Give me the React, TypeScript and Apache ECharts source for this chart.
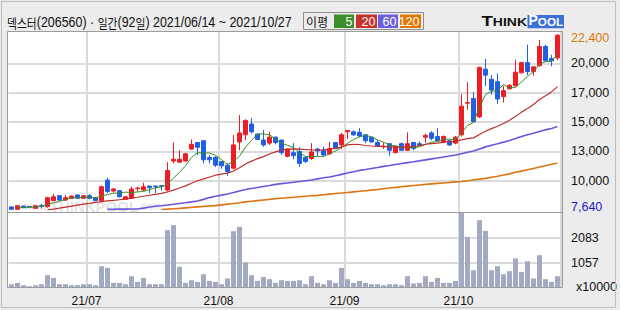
import { useEffect, useRef } from "react";
import * as echarts from "echarts";

const dates = [
  "2021-06-14","2021-06-15","2021-06-16","2021-06-17","2021-06-18","2021-06-21","2021-06-22","2021-06-23","2021-06-24","2021-06-25","2021-06-28","2021-06-29","2021-06-30",
  "2021-07-01","2021-07-02","2021-07-05","2021-07-06","2021-07-07","2021-07-08","2021-07-09","2021-07-12","2021-07-13","2021-07-14","2021-07-15","2021-07-16","2021-07-19","2021-07-20","2021-07-21","2021-07-22","2021-07-23","2021-07-26","2021-07-27","2021-07-28","2021-07-29","2021-07-30",
  "2021-08-02","2021-08-03","2021-08-04","2021-08-05","2021-08-06","2021-08-09","2021-08-10","2021-08-11","2021-08-12","2021-08-13","2021-08-17","2021-08-18","2021-08-19","2021-08-20","2021-08-23","2021-08-24","2021-08-25","2021-08-26","2021-08-27","2021-08-30","2021-08-31",
  "2021-09-01","2021-09-02","2021-09-03","2021-09-06","2021-09-07","2021-09-08","2021-09-09","2021-09-10","2021-09-13","2021-09-14","2021-09-15","2021-09-16","2021-09-17","2021-09-23","2021-09-24","2021-09-27","2021-09-28","2021-09-29","2021-09-30",
  "2021-10-01","2021-10-05","2021-10-06","2021-10-07","2021-10-08","2021-10-12","2021-10-13","2021-10-14","2021-10-15","2021-10-18","2021-10-19","2021-10-20","2021-10-21","2021-10-22","2021-10-25","2021-10-26","2021-10-27",
];

const opens = [
  7900,7700,7970,7930,7780,8000,7920,8420,8840,8480,8620,8900,8620,
  8840,8670,8420,10150,9230,9260,8540,8620,9440,9320,9650,9650,9680,9320,11750,11650,11750,12750,13300,13450,12050,12050,
  11700,11400,11150,13350,13950,14850,14000,13500,13250,13750,13500,12150,12450,12550,12050,11950,12750,12650,12350,13300,13100,
  14200,14200,14150,13950,13750,13300,12950,13200,12450,13200,12650,13300,13200,13750,14100,13800,13350,13450,13250,
  13950,16600,17000,15450,19450,18600,18400,17150,17800,18050,19150,20000,19250,19750,21350,20350,20400,
];
const closes = [
  7700,8000,7830,7900,8000,7960,8670,8750,8480,8670,8810,8620,8840,
  8620,8420,9590,9200,9400,8750,8750,9400,9480,9590,9510,9600,9630,10950,11900,11900,12350,13150,12900,11850,11850,11400,
  11350,10850,13100,14100,15150,14200,13550,13100,13750,13300,12450,12750,12200,11550,11700,12500,12600,12250,12800,12800,13950,
  14300,13950,13850,13450,13350,13000,13000,12650,13000,12650,13200,12800,13100,13900,13650,13450,13800,13100,13750,
  16350,16650,15050,19600,18950,17700,16950,17650,18100,19200,20000,19250,19650,21350,20150,20150,22300,
];
const lows = [
  7640,7680,7800,7870,7760,7780,7830,8390,8390,8400,8580,8580,8580,
  8540,8380,8390,9050,9090,8700,8500,8560,9180,9230,9040,9060,9260,9230,11550,11600,11700,12700,12250,11550,11550,11250,
  11100,10500,11050,12650,13500,14050,13500,12950,13100,13150,12250,12050,11900,11250,11600,11850,12150,12200,12250,12750,12750,
  13600,13850,13750,13250,13300,13000,12750,12200,12400,12600,12600,12650,13000,13250,13500,13350,13250,13000,13150,
  13800,16050,14950,15350,18050,17300,16550,16650,17750,18000,19100,18950,18900,19650,20100,19700,20200,
];
const highs = [
  7970,8030,8000,7960,8020,8140,8750,8980,8900,8900,8850,8950,8880,
  8980,8700,9700,10350,9480,9300,8800,9590,9590,9930,9680,9680,9720,11650,13300,12650,12400,13550,13350,13500,12250,12150,
  11750,11550,13950,15600,15250,15350,14050,14350,14200,13800,13550,12800,13250,12900,12100,13250,12850,12950,13350,13300,14100,
  14350,14300,14500,13950,13750,13500,13300,13200,13050,13300,14150,13300,13400,14050,14250,14500,13900,13500,13850,
  17350,18350,17500,19650,20300,18950,19100,18050,18200,20250,20050,21500,19650,21900,21500,20650,22400,
];

// volume, x10000 shares
const volumes = [
  166,220,125,84,125,166,536,425,166,166,125,125,166,
  166,125,905,836,220,220,166,495,261,425,166,166,166,2383,2588,877,220,330,261,577,302,261,
  166,400,2342,2518,1057,536,302,466,372,220,330,302,302,330,166,495,220,166,330,220,836,
  372,220,302,220,166,166,125,166,166,125,495,193,220,495,261,425,220,220,302,
  3109,2107,741,2793,2354,741,905,577,700,1221,672,1110,400,1357,372,261,495,
];

const ma5Head = [null, 7820, 7850, 7870];
const ma20Head = [null,null,null,null,null,null,7650,7720,7800,7880,7970,8050,8130,8200,8280,8340,8400,8450,8500];
const ma60Head = [
  null,null,null,null,null,null,null,null,null,null,null,null,null,null,null,null,
  7700,7705,7710,7715,7720,7730,7800,7890,7950,8000,8060,8120,8185,8250,8320,8400,8530,8680,8790,8890,8980,
  9100,9230,9360,9450,9530,9610,9690,9790,9850,9910,9970,10030,10090,10150,10250,10350,10410,10520,10630,10740,10850,10960,
];
const ma120 = [
  null,null,null,null,null,null,null,null,null,null,null,null,null,null,null,null,null,null,null,null,null,null,null,null,null,
  7680,7710,7745,7780,7820,7860,7900,7940,7975,8010,8070,8130,8190,8250,8320,8380,8430,8480,8530,8590,8630,8670,8710,8750,8790,
  8830,8870,8920,8970,9020,9060,9110,9160,9210,9260,9310,9360,9420,9480,9540,9590,9640,9690,9740,9790,9830,9870,9910,9950,10000,
  10030,10090,10160,10230,10290,10380,10470,10570,10670,10800,10900,11010,11120,11240,11350,11470,11560,
];

const priceMin = 7640;
const priceMax = 22400;
const priceTickLabels = ["7,640", "10,000", "13,000", "15,000", "17,000", "20,000", "22,400"];
const volMin = 31;
const volMax = 3109;
const volTickLabels = ["x10000", "1057", "2083", ""];
const maPeriods = [5, 20, 60, 120];
const maColors = ["#3b8d22", "#c0302a", "#6a55dc", "#dc7410"];
const legendColors = ["#3b8f2a", "#c8322d", "#6a5fe0", "#e07800"];
const titleParts = { name: "덱스터", code: "(206560) · ", kind: "일간", days: "(92", dayUnit: "일", range: ") 2021/06/14 ~ 2021/10/27" };

const FONT_NUM = "'Liberation Sans', Arial, sans-serif";
const FONT_KR = "'Noto Sans CJK KR', sans-serif";
const GRID = "#dadada";
const UP = "#ee1c24";
const DOWN = "#1e5fe3";

function movingAverage(head: (number | null)[], period: number) {
  return closes.map((_, i) => {
    if (i < head.length) return head[i];
    let s = 0;
    for (let k = i - period + 1; k <= i; k++) s += closes[k];
    return s / period;
  });
}

function buildOption() {
  const isMonthStart = (i: number) => i > 0 && dates[i].slice(5, 7) !== dates[i - 1].slice(5, 7);
  const pStep = (priceMax - priceMin) / 6;
  const vStep = (volMax - volMin) / 3;
  const sp = (v: number | null) => (v == null ? null : v - priceMin);
  const maSeries = [
    movingAverage(ma5Head, 5),
    movingAverage(ma20Head, 20),
    movingAverage(ma60Head, 60),
    ma120,
  ];
  const maWidths = [1, 1.2, 1.6, 1.6];

  const candleData = dates.map((_, i) => [sp(opens[i]), sp(closes[i]), sp(lows[i]), sp(highs[i])]);
  const volData = volumes.map((v) => v - volMin);

  const graphic: any[] = [
    { type: "rect", z: -10, shape: { x: 7.5, y: 31.5, width: 555, height: 256 }, style: { fill: "#ffffff" } },
    { type: "rect", z: 50, shape: { x: 7.5, y: 31.5, width: 555, height: 256 }, style: { fill: "none", stroke: "#9c9c9c", lineWidth: 1 } },
    { type: "line", z: 50, shape: { x1: 7.5, y1: 212.5, x2: 562.5, y2: 212.5 }, style: { stroke: "#9c9c9c", lineWidth: 1 } },
    { type: "rect", z: 50, shape: { x: 1.5, y: 1.5, width: 614, height: 306 }, style: { fill: "none", stroke: "#bdbdbd", lineWidth: 1 } },
    {
      type: "text", z: 1, x: 24, y: 206,
      style: {
        text: "{s|www.}{b|THINKPOOL}{s|.com}",
        textVerticalAlign: "middle",
        rich: {
          s: { fontSize: 10, fontFamily: "Liberation Sans", fill: "rgba(140,140,140,0.25)", fontWeight: "bold" },
          b: { fontSize: 15, fontFamily: "Liberation Sans", fill: "rgba(140,140,140,0.25)", fontWeight: "bold" },
        },
      },
    },
    {
      type: "text", x: 7, y: 22, scaleX: 0.83, scaleY: 1,
      style: {
        text: `{k|${titleParts.name}}{n|${titleParts.code}}{k|${titleParts.kind}}{n|${titleParts.days}}{k|${titleParts.dayUnit}}{n|${titleParts.range}}`,
        textVerticalAlign: "middle",
        rich: {
          k: { fontFamily: FONT_KR, fontSize: 13, fill: "#111" },
          n: { fontFamily: FONT_NUM, fontSize: 15, fill: "#111" },
        },
      },
    },
    { type: "rect", shape: { x: 303.5, y: 12.5, width: 120, height: 17 }, style: { fill: "none", stroke: "#8e8e8e", lineWidth: 1 } },
    { type: "text", x: 306, y: 21.5, style: { text: "이평", font: `12px ${FONT_KR}`, fill: "#111", textVerticalAlign: "middle" } },
  ];
  const boxX = [334, 356, 378, 400];
  const boxW = [20, 21, 20, 21];
  maPeriods.forEach((p, j) => {
    graphic.push({ type: "rect", shape: { x: boxX[j], y: 14.5, width: boxW[j], height: 13.5 }, style: { fill: legendColors[j] } });
    graphic.push({
      type: "text", x: boxX[j] + boxW[j] - 1.5, y: 21.8,
      style: { text: String(p), font: `12.5px ${FONT_NUM}`, fill: "#ffffff", textAlign: "right", textVerticalAlign: "middle" },
    });
  });
  graphic.push({
    type: "text", x: 481.5, y: 27.6, scaleX: 1.33, scaleY: 1,
    style: {
      text: "{b|T}{s|HINK}",
      textVerticalAlign: "bottom",
      rich: {
        b: { fontSize: 14, fontWeight: "bold", fontFamily: "Liberation Sans", fill: "#111", verticalAlign: "bottom", lineHeight: 14 },
        s: { fontSize: 10.5, fontWeight: "bold", fontFamily: "Liberation Sans", fill: "#111", verticalAlign: "bottom", lineHeight: 14 },
      },
    },
  });
  graphic.push({ type: "rect", shape: { x: 527.5, y: 15, width: 36.5, height: 13.3 }, style: { fill: "#3d6fd9" } });
  graphic.push({
    type: "text", x: 545.8, y: 27.2,
    style: {
      text: "{b|P}{s|OOL}",
      textAlign: "center",
      textVerticalAlign: "bottom",
      rich: {
        b: { fontSize: 14, fontWeight: "bold", fontFamily: "Liberation Sans", fill: "#ffffff", verticalAlign: "bottom", lineHeight: 14 },
        s: { fontSize: 11.7, fontWeight: "bold", fontFamily: "Liberation Sans", fill: "#ffffff", verticalAlign: "bottom", lineHeight: 14 },
      },
    },
  });

  return {
    animation: false,
    backgroundColor: "#ececec",
    grid: [
      { left: 8.5, width: 552, top: 34, height: 176 },
      { left: 8.5, width: 552, top: 212.5, height: 75 },
      { left: 8.5, width: 552, top: 31.5, height: 256 },
    ],
    xAxis: [
      { type: "category", gridIndex: 0, data: dates, axisLine: { show: false }, axisTick: { show: false }, axisLabel: { show: false }, splitLine: { show: false } },
      {
        type: "category", gridIndex: 1, data: dates,
        axisLine: { show: false }, axisTick: { show: false }, splitLine: { show: false },
        axisLabel: {
          interval: (i: number) => isMonthStart(i),
          formatter: (v: string) => `${v.slice(2, 4)}/${v.slice(5, 7)}`,
          margin: 7, fontSize: 12, fontFamily: FONT_NUM, color: "#111", padding: [0, 6, 0, 0],
        },
      },
      {
        type: "category", gridIndex: 2, data: dates,
        axisLine: { show: false }, axisTick: { show: false }, axisLabel: { show: false },
        splitLine: { show: true, interval: (i: number) => isMonthStart(i), lineStyle: { color: GRID, width: 2 } },
      },
    ],
    yAxis: [
      {
        type: "value", gridIndex: 0, position: "right", min: 0, max: priceMax - priceMin, interval: pStep,
        axisLine: { show: false }, axisTick: { show: false },
        splitLine: { show: true, showMinLine: false, showMaxLine: false, lineStyle: { color: GRID, width: 2 } },
        axisLabel: {
          margin: 10.5, showMinLabel: true, showMaxLabel: true,
          formatter: (v: number) => {
            const idx = Math.round(Number(v) / pStep);
            const t = priceTickLabels[idx] ?? "";
            if (idx === 0) return `{lo|${t}}`;
            if (idx === priceTickLabels.length - 1) return `{hi|${t}}`;
            return `{n|${t}}`;
          },
          rich: {
            lo: { color: "#2020c8", fontSize: 12.5, fontFamily: FONT_NUM, padding: [0, 0, 7, 0] },
            hi: { color: "#d8780a", fontSize: 12.5, fontFamily: FONT_NUM, padding: [8, 0, 0, 0] },
            n: { color: "#111", fontSize: 12.5, fontFamily: FONT_NUM },
          },
        },
      },
      {
        type: "value", gridIndex: 1, position: "right", min: 0, max: volMax - volMin, interval: vStep,
        axisLine: { show: false }, axisTick: { show: false },
        splitLine: { show: true, showMinLine: false, showMaxLine: false, lineStyle: { color: GRID, width: 2 } },
        axisLabel: {
          margin: 10.5, showMinLabel: true, showMaxLabel: false,
          formatter: (v: number) => {
            const idx = Math.round(Number(v) / vStep);
            const t = volTickLabels[idx] ?? "";
            return idx === 0 ? `{u|${t}}` : `{n|${t}}`;
          },
          rich: {
            u: { color: "#111", fontSize: 12.5, fontFamily: FONT_NUM, padding: [0, 0, 2, 5] },
            n: { color: "#111", fontSize: 12.5, fontFamily: FONT_NUM },
          },
        },
      },
      { type: "value", gridIndex: 2, min: 0, max: 1, show: false },
    ],
    series: [
      {
        type: "candlestick", xAxisIndex: 0, yAxisIndex: 0, data: candleData, barWidth: 5, z: 2,
        itemStyle: { color: UP, color0: DOWN, borderColor: UP, borderColor0: DOWN, borderWidth: 1 },
      },
      ...maSeries.map((arr, j) => ({
        type: "line", xAxisIndex: 0, yAxisIndex: 0, z: 3,
        data: arr.map((v) => sp(v as number | null)),
        showSymbol: false, symbol: "none", connectNulls: false,
        lineStyle: { color: maColors[j], width: maWidths[j] },
      })),
      {
        type: "bar", xAxisIndex: 1, yAxisIndex: 1, data: volData, barWidth: 5,
        itemStyle: { color: "#a2aac2" },
      },
    ],
    graphic,
  };
}

export default function App() {
  const ref = useRef<HTMLDivElement>(null);
  useEffect(() => {
    const chart = echarts.init(ref.current!, null, { renderer: "svg" });
    chart.setOption(buildOption() as any);
    return () => chart.dispose();
  }, []);
  return <div ref={ref} style={{ position: "fixed", left: 0, top: 0, width: 620, height: 310 }} />;
}
